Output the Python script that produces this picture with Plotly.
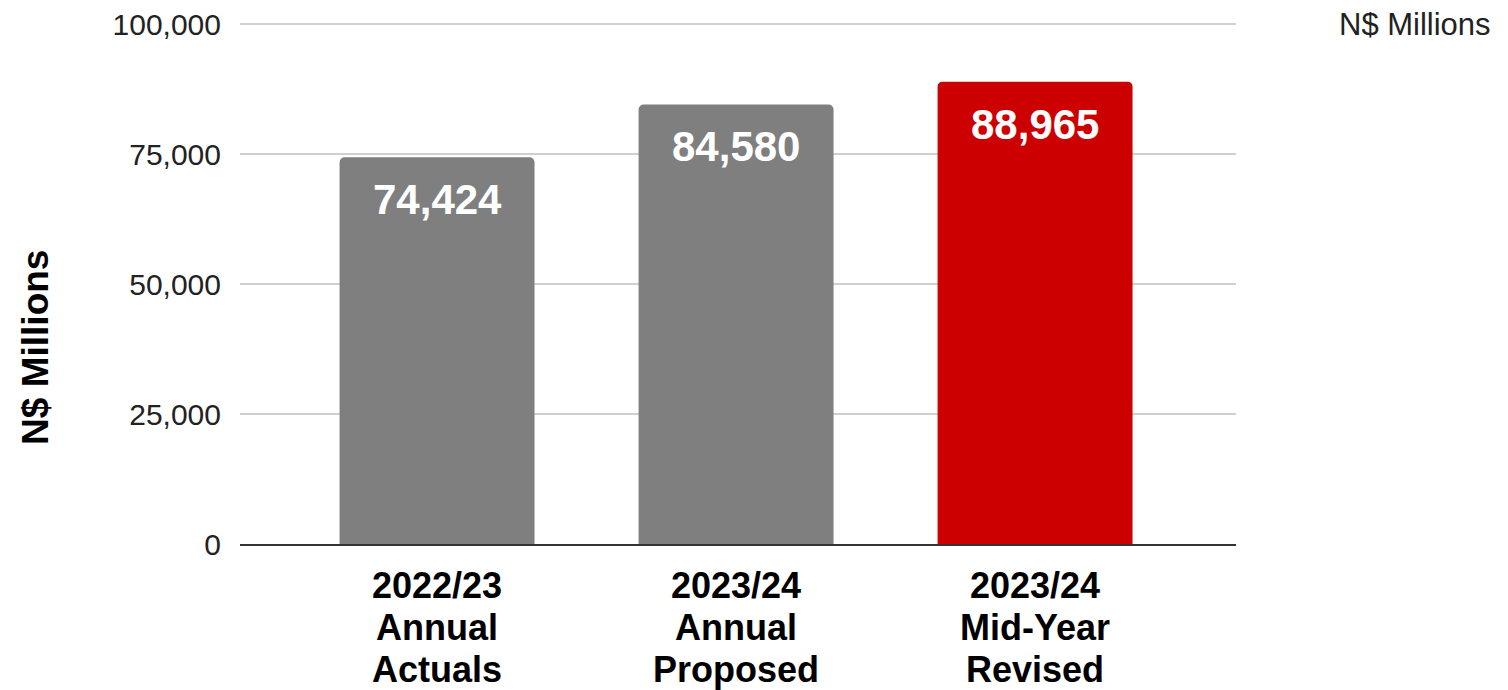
import plotly.graph_objects as go

categories = ["2022/23<br>Annual<br>Actuals", "2023/24<br>Annual<br>Proposed", "2023/24<br>Mid-Year<br>Revised"]
values = [74424, 84580, 88965]
colors = ["#7f7f7f", "#7f7f7f", "#cc0000"]
y_ticks = [0, 25000, 50000, 75000, 100000]
y_title = "N$ Millions"
legend_text = "N$ Millions"

FONT = "Liberation Sans, Arial, sans-serif"

fig = go.Figure()
fig.add_trace(go.Bar(
    x=categories, y=values,
    marker=dict(color=colors, cornerradius=5, line=dict(width=0)),
    showlegend=False, hoverinfo="skip",
))

for c, v in zip(categories, values):
    fig.add_annotation(
        x=c, y=v, xref="x", yref="y", text=f"<b>{v:,}</b>", showarrow=False,
        yanchor="top", yshift=-17,
        font=dict(family=FONT, size=42, color="white"),
    )
    # category label, one line per annotation
    for i, line in enumerate(c.split("<br>")):
        fig.add_annotation(
            x=c, y=0, xref="x", yref="paper", text=f"<b>{line}</b>", showarrow=False,
            yanchor="middle", yshift=-(41 + i * 42),
            font=dict(family=FONT, size=36, color="black"),
        )

fig.add_annotation(
    xref="paper", yref="paper", x=1.258, y=1.0, yshift=-1, text=legend_text,
    showarrow=False, xanchor="right", yanchor="middle",
    font=dict(family=FONT, size=31, color="#222222"),
)
fig.add_annotation(
    xref="paper", yref="paper", x=-0.206, y=0.378, text=f"<b>{y_title}</b>",
    textangle=-90, showarrow=False, xanchor="center", yanchor="middle",
    font=dict(family=FONT, size=37, color="black"),
)

fig.update_layout(
    width=1500, height=682,
    margin=dict(l=232, r=272, t=15, b=146, autoexpand=False),
    paper_bgcolor="white", plot_bgcolor="white",
    bargap=0.348,
    font=dict(family=FONT, color="black"),
    xaxis=dict(
        range=[-0.659, 2.672],
        showline=True, linecolor="#333333", linewidth=2,
        showticklabels=False, showgrid=False,
    ),
    yaxis=dict(
        range=[0, 100250], tickvals=y_ticks, tickformat=",",
        showgrid=True, gridcolor="#d0d0d0", gridwidth=2,
        zeroline=False, showline=False,
        tickfont=dict(family=FONT, size=30, color="#222222"),
        ticklabelstandoff=18, ticklabeloverflow="allow",
    ),
)

fig.write_html("out.html")
